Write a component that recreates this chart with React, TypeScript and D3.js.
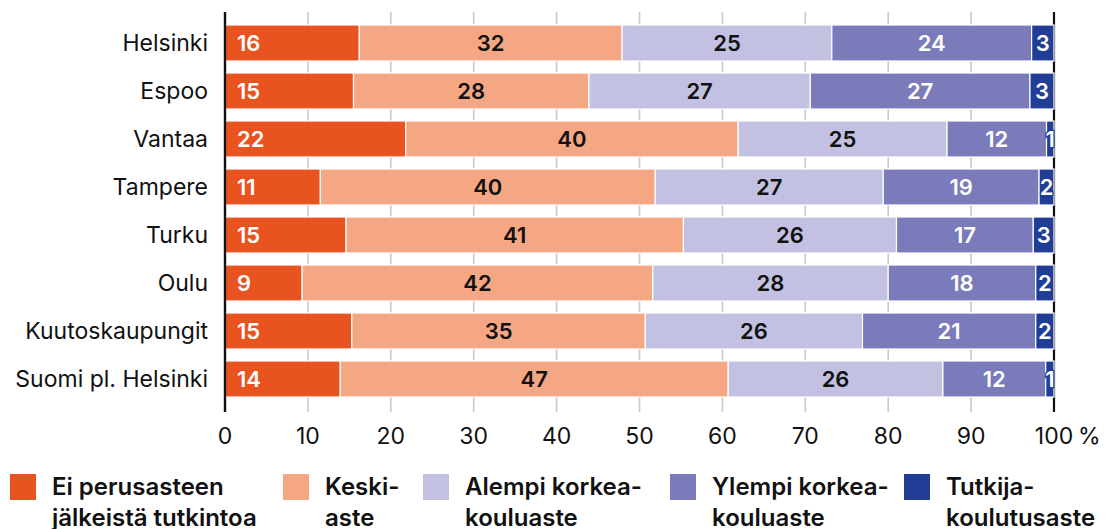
import React from "react";
import * as d3 from "d3";

const categories = ["Helsinki", "Espoo", "Vantaa", "Tampere", "Turku", "Oulu", "Kuutoskaupungit", "Suomi pl. Helsinki"];
const seriesNames = ["Ei perusasteen\njälkeistä tutkintoa", "Keski-\naste", "Alempi korkea-\nkouluaste", "Ylempi korkea-\nkouluaste", "Tutkija-\nkoulutusaste"];
const eiPerus = [16.2, 15.5, 21.8, 11.5, 14.6, 9.3, 15.3, 13.9];
const keskiaste = [31.7, 28.4, 40.1, 40.4, 40.7, 42.3, 35.4, 46.8];
const alempi = [25.3, 26.7, 25.2, 27.5, 25.7, 28.4, 26.2, 25.9];
const ylempi = [24.1, 26.5, 12.0, 18.8, 16.5, 17.8, 20.9, 12.4];
const tutkija = [2.7, 2.9, 0.9, 1.8, 2.5, 2.2, 2.2, 1.0];
const labels = [
  [16, 32, 25, 24, 3],
  [15, 28, 27, 27, 3],
  [22, 40, 25, 12, 1],
  [11, 40, 27, 19, 2],
  [15, 41, 26, 17, 3],
  [9, 42, 28, 18, 2],
  [15, 35, 26, 21, 2],
  [14, 47, 26, 12, 1],
];
const ticks = [0, 10, 20, 30, 40, 50, 60, 70, 80, 90, 100];
const colors = ["#E8531F", "#F5A683", "#C3C1E2", "#7B7BBB", "#213D96"];
const labelColors = ["#fff", "#111", "#111", "#fff", "#fff"];

const W = 1106;
const H = 529;
const FONT = "Inter, 'Noto Sans', sans-serif";

export default function App() {
  const series = [eiPerus, keskiaste, alempi, ylempi, tutkija];
  const x = d3.scaleLinear().domain([0, 100]).range([225, 1054]);
  const y = d3.scaleBand().domain(categories).range([19, 403]).paddingInner(0.25).paddingOuter(0.125);
  const legendX = [10, 283, 423, 670, 904];

  const rows = categories.map((c, i) => {
    let acc = 0;
    return series.map((s, k) => {
      const x0 = acc;
      acc += s[i];
      return { k, x0, x1: acc, label: labels[i][k] };
    });
  });

  return (
    <svg width={W} height={H} style={{ position: "absolute", left: 0, top: 0, background: "#fff" }} fontFamily={FONT}>
      {ticks.map((t) => (
        <line key={t} x1={x(t)} x2={x(t)} y1={12} y2={412} stroke={t === 0 || t === 100 ? "#111" : "#c9c9c9"} strokeWidth={t === 0 || t === 100 ? 2.2 : 1.6} />
      ))}
      {rows.map((segs, i) => (
        <g key={categories[i]}>
          {segs.map((s) => (
            <rect key={s.k} x={x(s.x0)} y={y(categories[i])} width={x(s.x1) - x(s.x0)} height={y.bandwidth()} fill={colors[s.k]} stroke="#fff" strokeWidth={1.2} />
          ))}
          {segs.map((s) => {
            const cy = (y(categories[i]) as number) + y.bandwidth() / 2;
            const tx = s.k === 0 ? x(s.x0) + 12 : (x(s.x0) + x(s.x1)) / 2;
            return (
              <text key={"l" + s.k} x={tx} y={cy} dy="0.36em" textAnchor={s.k === 0 ? "start" : "middle"} fontSize={22} fontWeight={600} fill={labelColors[s.k]}
                stroke={s.k === 4 ? "#213D96" : "none"} strokeWidth={s.k === 4 ? 2.5 : 0} paintOrder="stroke">
                {s.label}
              </text>
            );
          })}
          <text x={208} y={(y(categories[i]) as number) + y.bandwidth() / 2} dy="0.36em" textAnchor="end" fontSize={23} fill="#111">
            {categories[i]}
          </text>
        </g>
      ))}
      <line x1={x(0)} x2={x(0)} y1={12} y2={412} stroke="#111" strokeWidth={2.2} />
      {ticks.map((t) => (
        <text key={"t" + t} x={x(t)} y={444} textAnchor="middle" fontSize={23} fill="#111">{t}</text>
      ))}
      <text x={x(100) + 24} y={444} textAnchor="start" fontSize={23} fill="#111">%</text>
      {seriesNames.map((n, k) => (
        <g key={n}>
          <rect x={legendX[k]} y={474} width={26} height={26} fill={colors[k]} />
          <text x={legendX[k] + 42} y={495} fontSize={24} fontWeight={600} fill="#111">
            {n.split("\n").map((line, j) => (
              <tspan key={j} x={legendX[k] + 42} dy={j === 0 ? 0 : 31}>{line}</tspan>
            ))}
          </text>
        </g>
      ))}
    </svg>
  );
}
